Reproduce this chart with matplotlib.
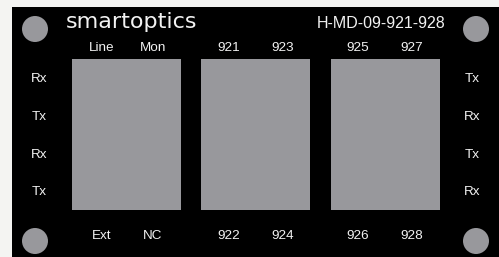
import matplotlib
matplotlib.use("Agg")
import matplotlib.pyplot as plt
from matplotlib.patches import Rectangle, Circle

# ---- data ----
brand = "smartoptics"
model = "H-MD-09-921-928"
top_labels = ["Line", "Mon", "921", "923", "925", "927"]
bottom_labels = ["Ext", "NC", "922", "924", "926", "928"]
left_labels = ["Rx", "Tx", "Rx", "Tx"]
right_labels = ["Tx", "Rx", "Tx", "Rx"]

# ---- layout ----
W, H = 499, 257
fig = plt.figure(figsize=(W / 100, H / 100), dpi=100)
fig.patch.set_facecolor("#f4f4f2")
ax = fig.add_axes([0, 0, 1, 1])
ax.set_xlim(0, W)
ax.set_ylim(H, 0)
ax.axis("off")

ax.add_patch(Rectangle((12, 7), W - 12, H - 7, facecolor="black", edgecolor="none"))

gray = "#98989c"
for cx, cy in [(35, 29), (476, 29), (35, 241), (476, 241)]:
    ax.add_patch(Circle((cx, cy), 13, facecolor=gray, edgecolor="none"))

for x0, x1 in [(72, 181), (201, 310), (331, 440)]:
    ax.add_patch(Rectangle((x0, 59), x1 - x0, 151, facecolor=gray, edgecolor="none"))

font = "Liberation Sans"
txt = "#f2f2f2"
ax.text(132, 22, brand, color=txt, fontsize=16, family="DejaVu Sans",
        ha="center", va="center")
ax.text(381, 24, model, color=txt, fontsize=11.5, family=font, ha="center", va="center")

col_x = [102, 153, 229, 283, 358, 412]
for x, t in zip(col_x, top_labels):
    ax.text(x, 48, t, color=txt, fontsize=9.7, family=font, ha="center", va="center")
for x, t in zip(col_x, bottom_labels):
    ax.text(x, 236, t, color=txt, fontsize=9.7, family=font, ha="center", va="center")

row_y = [79, 117, 155, 192]
for y, t in zip(row_y, left_labels):
    ax.text(39, y, t, color=txt, fontsize=9.7, family=font, ha="center", va="center")
for y, t in zip(row_y, right_labels):
    ax.text(472, y, t, color=txt, fontsize=9.7, family=font, ha="center", va="center")

fig.savefig("out.png", dpi=100, facecolor=fig.get_facecolor())
